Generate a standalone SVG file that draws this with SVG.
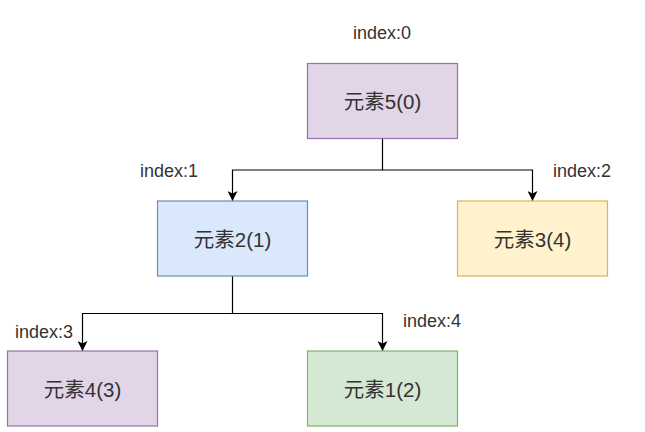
<svg xmlns="http://www.w3.org/2000/svg" width="645" height="432" viewBox="0 0 645 432">
<defs>
<style>
.lbl{font-family:"Liberation Sans","Noto Sans CJK SC",sans-serif;font-size:20.5px;fill:#333;text-anchor:middle}
.idx{font-family:"Liberation Sans",sans-serif;font-size:18px;fill:#333;text-anchor:middle}
.edge{fill:none;stroke:#000;stroke-width:1.2}
.purple{fill:#e1d5e7;stroke:#9673a6;stroke-width:1.2}
.blue{fill:#dae8fc;stroke:#6c8ebf;stroke-width:1.2}
.yellow{fill:#fff2cc;stroke:#d6b656;stroke-width:1.2}
.green{fill:#d5e8d4;stroke:#82b366;stroke-width:1.2}
</style>
<marker id="arr" viewBox="0 0 10 10" refX="10" refY="5" markerWidth="10" markerHeight="10" markerUnits="userSpaceOnUse" orient="auto">
<path d="M0,0 L10,5 L0,10 L2.5,5 Z" fill="#000"/>
</marker>
</defs>
<rect width="645" height="432" fill="#fff"/>
<g id="connectors">
<path class="edge" d="M382.5,138.5 V170 H232.5 V201" marker-end="url(#arr)"/>
<path class="edge" d="M382.5,170 H532.5 V201" marker-end="url(#arr)"/>
<path class="edge" d="M232.5,276 V313.5 H82.5 V351" marker-end="url(#arr)"/>
<path class="edge" d="M232.5,313.5 H382.5 V351" marker-end="url(#arr)"/>
</g>
<g id="node0">
<rect class="purple" x="307.5" y="63.5" width="150" height="75"/>
<text class="lbl" x="382.5" y="109">元素5(0)</text>
<text class="idx" x="382" y="39">index:0</text>
</g>
<g id="node1">
<rect class="blue" x="157.5" y="201" width="150" height="75"/>
<text class="lbl" x="232.5" y="246.5">元素2(1)</text>
<text class="idx" x="169" y="177">index:1</text>
</g>
<g id="node2">
<rect class="yellow" x="457.5" y="201" width="150" height="75"/>
<text class="lbl" x="532.5" y="246.5">元素3(4)</text>
<text class="idx" x="582" y="176.5">index:2</text>
</g>
<g id="node3">
<rect class="purple" x="7.5" y="351" width="150" height="75"/>
<text class="lbl" x="82.5" y="396.5">元素4(3)</text>
<text class="idx" x="44" y="338">index:3</text>
</g>
<g id="node4">
<rect class="green" x="307.5" y="351" width="150" height="75"/>
<text class="lbl" x="382.5" y="396.5">元素1(2)</text>
<text class="idx" x="432" y="327">index:4</text>
</g>
</svg>
